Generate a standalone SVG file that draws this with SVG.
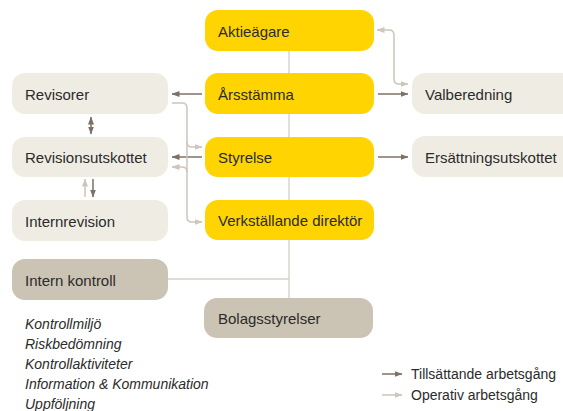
<svg xmlns="http://www.w3.org/2000/svg" width="563" height="411" viewBox="0 0 563 411">
<defs>
<marker id="ad" viewBox="0 0 8 6" refX="7.5" refY="3" markerWidth="8" markerHeight="6" markerUnits="userSpaceOnUse" orient="auto-start-reverse"><path d="M0,0 L8,3 L0,6 Z" fill="#7d7064"/></marker>
<marker id="al" viewBox="0 0 8 6" refX="7.5" refY="3" markerWidth="8" markerHeight="6" markerUnits="userSpaceOnUse" orient="auto-start-reverse"><path d="M0,0 L8,3 L0,6 Z" fill="#cdc6ba"/></marker>
</defs>
<style>
text{font-family:"Liberation Sans",Arial,sans-serif;fill:#2b2b2b}
.lbl{font-size:15px;dominant-baseline:central}
.y{fill:#ffd400}
.g{fill:#efede3}
.b{fill:#cbc3b4}
.dk{stroke:#7d7064;stroke-width:1.5;fill:none}
.lt{stroke:#cdc6ba;stroke-width:1.5;fill:none}
.it{font-size:14px;font-style:italic}
.lg{font-size:14px}
</style>
<rect width="563" height="411" fill="#ffffff"/>
<g id="connectors">
<path d="M289,51 V298" stroke="#d6d0c5" stroke-width="1.3" fill="none"/>
<path d="M168,279 H289" stroke="#d6d0c5" stroke-width="1.3" fill="none"/>
<path class="dk" d="M202,94 H172" marker-end="url(#ad)"/>
<path class="dk" d="M378,94 H408" marker-end="url(#ad)"/>
<path class="dk" d="M202,157 H172" marker-end="url(#ad)"/>
<path class="dk" d="M378,157 H408" marker-end="url(#ad)"/>
<path class="lt" d="M377,30 H389 Q394,30 394,35 V79 Q394,84 399,84 H408" marker-start="url(#al)" marker-end="url(#al)"/>
<path class="lt" d="M172,103 H182 Q187,103 187,108 V217 Q187,222 192,222 H202" marker-end="url(#al)"/>
<path class="lt" d="M187,142 Q187,147 192,147 H202" marker-end="url(#al)"/>
<path class="lt" d="M187,172 Q187,167 182,167 H172" marker-end="url(#al)"/>
<path class="dk" d="M91,117 V134" marker-start="url(#ad)" marker-end="url(#ad)"/>
<path class="lt" d="M85,197 V179" marker-end="url(#al)"/>
<path class="dk" d="M93,179 V197" marker-end="url(#ad)"/>
</g>
<g id="aktieagare"><rect class="y" x="205" y="10" width="169" height="41" rx="13"/><text class="lbl" x="218" y="31">Aktieägare</text></g>
<g id="arsstamma"><rect class="y" x="205" y="73" width="169" height="41" rx="13"/><text class="lbl" x="218" y="94">Årsstämma</text></g>
<g id="styrelse"><rect class="y" x="205" y="137" width="169" height="40" rx="13"/><text class="lbl" x="218" y="157">Styrelse</text></g>
<g id="vd"><rect class="y" x="205" y="200" width="169" height="40" rx="13"/><text class="lbl" x="218" y="220">Verkställande direktör</text></g>
<g id="revisorer"><rect class="g" x="12" y="73" width="156" height="41" rx="13"/><text class="lbl" x="25" y="94">Revisorer</text></g>
<g id="revisionsutskottet"><rect class="g" x="12" y="137" width="156" height="40" rx="13"/><text class="lbl" x="25" y="157">Revisionsutskottet</text></g>
<g id="internrevision"><rect class="g" x="12" y="200" width="156" height="41" rx="13"/><text class="lbl" x="25" y="221">Internrevision</text></g>
<g id="valberedning"><rect class="g" x="412" y="73" width="165" height="41" rx="13"/><text class="lbl" x="425" y="94">Valberedning</text></g>
<g id="ersattningsutskottet"><rect class="g" x="412" y="136" width="165" height="41" rx="13"/><text class="lbl" x="425" y="157">Ersättningsutskottet</text></g>
<g id="internkontroll"><rect class="b" x="12" y="259" width="156" height="41" rx="13"/><text class="lbl" x="25" y="280">Intern kontroll</text></g>
<g id="bolagsstyrelser"><rect class="b" x="204" y="298" width="169" height="40" rx="13"/><text class="lbl" x="218" y="318">Bolagsstyrelser</text></g>
<g id="list">
<text class="it" x="25" y="329">Kontrollmiljö</text>
<text class="it" x="25" y="349">Riskbedömning</text>
<text class="it" x="25" y="369">Kontrollaktiviteter</text>
<text class="it" x="25" y="389">Information &amp; Kommunikation</text>
<text class="it" x="25" y="409">Uppföljning</text>
</g>
<g id="legend">
<path class="dk" d="M382,374 H402" marker-end="url(#ad)"/>
<path class="lt" d="M382,395 H402" marker-end="url(#al)"/>
<text class="lg" x="411" y="379">Tillsättande arbetsgång</text>
<text class="lg" x="411" y="400">Operativ arbetsgång</text>
</g>
</svg>
